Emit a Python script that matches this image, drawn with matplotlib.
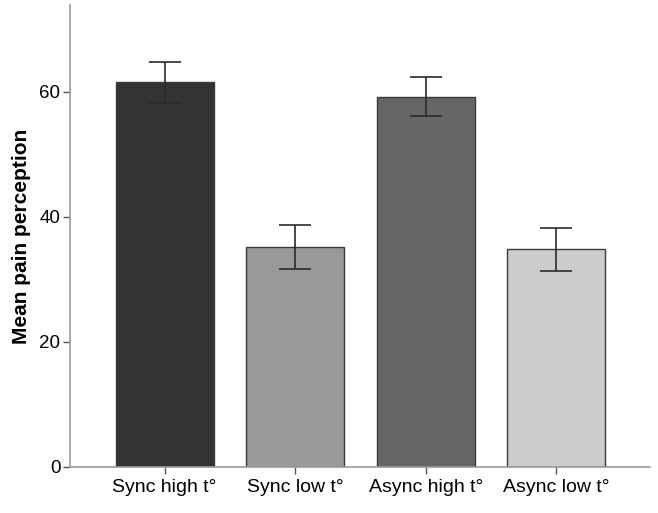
import matplotlib
matplotlib.use('Agg')
import matplotlib.pyplot as plt
import numpy as np

# mean pain perception per condition, with error bar limits
conditions = ['Sync high t°', 'Sync low t°', 'Async high t°', 'Async low t°']
means = [61.6, 35.2, 59.2, 34.9]
err_low = [58.2, 31.7, 56.1, 31.4]
err_high = [64.8, 38.7, 62.3, 38.3]
bar_colors = ['#333333', '#999999', '#666666', '#cccccc']

plt.rcParams['font.family'] = ['Liberation Sans', 'DejaVu Sans']

fig = plt.figure(figsize=(6.58, 5.13), dpi=100)
ax = fig.add_axes([0.1064, 0.0897, 0.8816, 0.9006])

x = np.arange(len(conditions))
means_arr = np.array(means)
yerr = [means_arr - np.array(err_low), np.array(err_high) - means_arr]
ax.bar(x, means, width=0.75, color=bar_colors, edgecolor='#3a3a3a', linewidth=1.0, zorder=2)
ax.errorbar(x, means, yerr=yerr, fmt='none', ecolor='#2a2a2a', elinewidth=1.2,
            capsize=11.5, capthick=1.2, zorder=3)

ax.set_xlim(-0.725, 3.72)
ax.set_ylim(0, 73.9)
ax.set_yticks([0, 20, 40, 60])
ax.set_xticks(x)
ax.set_xticklabels(conditions)
ax.set_ylabel('Mean pain perception', fontsize=15, fontweight='bold', labelpad=6)

for side in ['top', 'right']:
    ax.spines[side].set_visible(False)
ax.spines['left'].set_color('#9a9a9a')
ax.spines['bottom'].set_color('#9a9a9a')
ax.spines['left'].set_linewidth(1.2)
ax.spines['bottom'].set_linewidth(1.2)
ax.tick_params(axis='y', labelsize=13.5, length=5, color='#555555', width=1, pad=2)
ax.tick_params(axis='x', labelsize=14, length=5, color='#555555', width=1, pad=4)

fig.savefig('out.png', dpi=100)
